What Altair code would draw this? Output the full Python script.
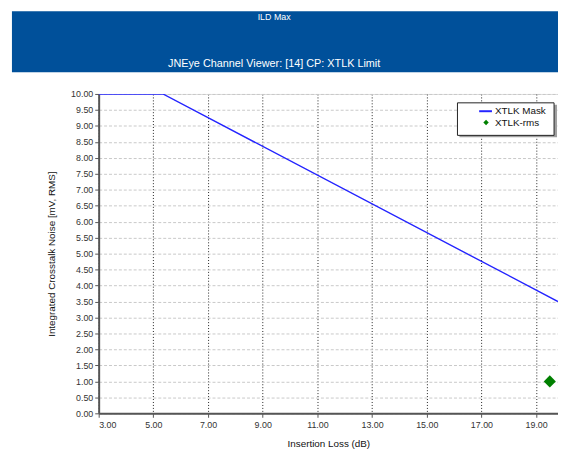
import altair as alt
import pandas as pd

# Data
mask_x = [3.0, 5.35, 19.8]
mask_y = [10.0, 10.0, 3.5]
rms_x = [19.5]
rms_y = [1.0]
x_ticks = [3, 5, 7, 9, 11, 13, 15, 17, 19]
y_ticks = [0, 0.5, 1, 1.5, 2, 2.5, 3, 3.5, 4, 4.5, 5, 5.5, 6, 6.5, 7, 7.5, 8, 8.5, 9, 9.5, 10]

series = ["XTLK Mask", "XTLK-rms"]
colors = ["#2424ff", "#008000"]

mask_df = pd.DataFrame({"x": mask_x, "y": mask_y, "series": series[0]})
rms_df = pd.DataFrame({"x": rms_x, "y": rms_y, "series": series[1]})

W, H = 466, 324
FONT = "Liberation Sans"

xscale = alt.Scale(domain=[3, 19.8], nice=False, zero=False)
yscale = alt.Scale(domain=[0, 10], nice=False)

xaxis = alt.Axis(values=x_ticks, format=".2f", title="Insertion Loss (dB)",
                 grid=True, gridColor="#222222", gridDash=[1, 2], gridWidth=1,
                 domainColor="#555555", domainWidth=2, tickColor="#555555", tickSize=4,
                 labelFont=FONT, labelFontSize=9, labelColor="#333333", labelOverlap=False,
                 titleFont=FONT, titleFontSize=10, titleFontWeight="normal", titleColor="#111111",
                 titlePadding=10, labelPadding=3)
yaxis = alt.Axis(values=y_ticks, format=".2f", title="Integrated Crosstalk Noise [mV, RMS]",
                 grid=True, gridColor="#c8c8c8", gridDash=[3, 2], gridWidth=1,
                 domainColor="#555555", domainWidth=2, tickColor="#555555", tickSize=4,
                 labelFont=FONT, labelFontSize=9, labelColor="#333333", labelOverlap=False,
                 titleFont=FONT, titleFontSize=10, titleFontWeight="normal", titleColor="#111111",
                 titlePadding=14, labelPadding=2)

leg_common = dict(title=None, orient="none", labelFont=FONT, labelFontSize=10,
                  labelColor="#111111", padding=0)

band = alt.Chart(pd.DataFrame({"a": [0]})).mark_rect(color="#00509a", clip=False).encode(
    x=alt.value(-88), x2=alt.value(W), y=alt.value(-84), y2=alt.value(-22))

t1 = alt.Chart(pd.DataFrame({"t": ["ILD Max"]})).mark_text(
    color="white", font=FONT, fontSize=9, align="center", baseline="middle").encode(
    text="t:N", x=alt.value(178), y=alt.value(-78))
t2 = alt.Chart(pd.DataFrame({"t": ["JNEye Channel Viewer: [14] CP: XTLK Limit"]})).mark_text(
    color="white", font=FONT, fontSize=11, align="center", baseline="middle").encode(
    text="t:N", x=alt.value(178), y=alt.value(-30))

legshadow = alt.Chart(pd.DataFrame({"a": [0]})).mark_rect(
    fill="#a0a0a0", clip=False).encode(
    x=alt.value(366), x2=alt.value(465), y=alt.value(11), y2=alt.value(44))
legbox = alt.Chart(pd.DataFrame({"a": [0]})).mark_rect(
    fill="white", stroke="#222222", strokeWidth=1, clip=False).encode(
    x=alt.value(364), x2=alt.value(462), y=alt.value(9), y2=alt.value(42))

line = alt.Chart(mask_df).mark_line(strokeWidth=1.4, clip=True).encode(
    x=alt.X("x:Q", scale=xscale, axis=xaxis),
    y=alt.Y("y:Q", scale=yscale, axis=yaxis),
    stroke=alt.Stroke("series:N", scale=alt.Scale(domain=[series[0]], range=[colors[0]]),
                      legend=alt.Legend(legendX=385, legendY=10, symbolType="stroke",
                                        symbolSize=169, symbolStrokeWidth=2, labelOffset=2,
                                        **leg_common)),
)
pts = alt.Chart(rms_df).mark_point(shape="diamond", filled=True, size=150, opacity=1).encode(
    x=alt.X("x:Q", scale=xscale, axis=xaxis),
    y=alt.Y("y:Q", scale=yscale, axis=yaxis),
    fill=alt.Fill("series:N", scale=alt.Scale(domain=[series[1]], range=[colors[1]]),
                  legend=alt.Legend(legendX=372, legendY=24, symbolType="diamond",
                                    symbolSize=30, symbolOffset=16, symbolStrokeWidth=0,
                                    labelOffset=4, **leg_common)),
)

chart = alt.layer(band, t1, t2, line, pts, legshadow, legbox).properties(
    width=W, height=H,
    autosize=alt.AutoSizeParams(type="none"),
    padding={"left": 92, "top": 84, "right": 0, "bottom": 35},
).resolve_scale(stroke="independent", fill="independent").configure_view(
    stroke=None).configure(background="white")

chart.save("out.html", embed_options={"renderer": "svg", "actions": False})
